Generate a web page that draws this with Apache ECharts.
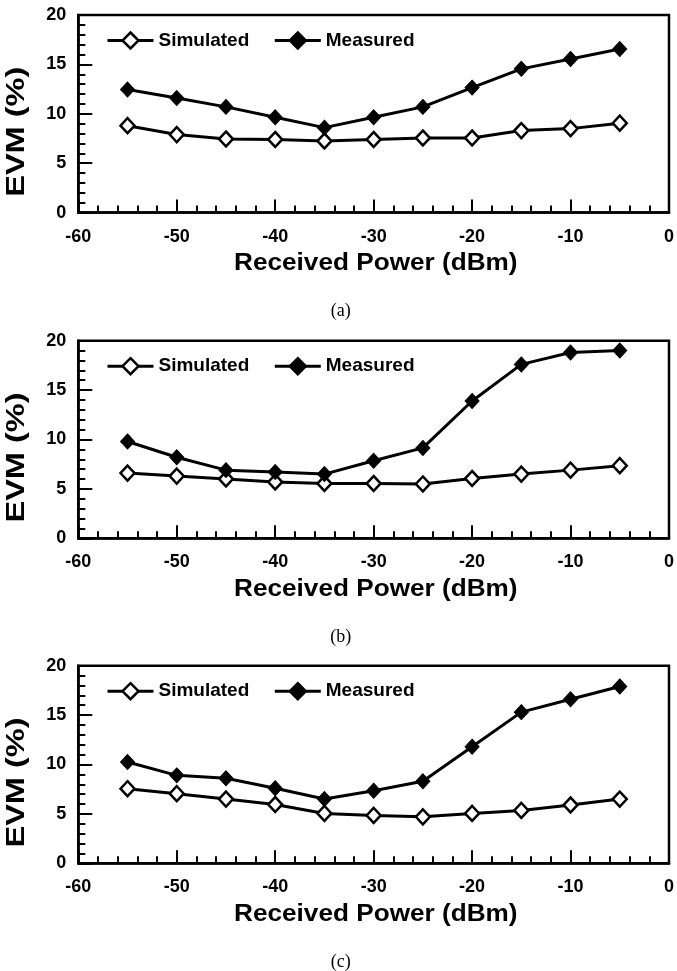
<!DOCTYPE html>
<html>
<head>
<meta charset="utf-8">
<script src="https://cdn.jsdelivr.net/npm/echarts@6/dist/echarts.min.js"></script>
<style>
html,body{margin:0;padding:0;background:#fff;}
#c{width:677px;height:971px;}
</style>
</head>
<body>
<div id="c"></div>
<script>
// Received power (dBm)
const power = [-55, -50, -45, -40, -35, -30, -25, -20, -15, -10, -5];
// Panel (a)
const simA  = [8.8, 7.9, 7.45, 7.4, 7.25, 7.4, 7.55, 7.55, 8.3, 8.5, 9.05];
const measA = [12.45, 11.6, 10.7, 9.65, 8.6, 9.65, 10.7, 12.65, 14.55, 15.55, 16.55];
// Panel (b)
const simB  = [6.6, 6.3, 6.0, 5.7, 5.55, 5.55, 5.5, 6.05, 6.5, 6.9, 7.35];
const measB = [9.8, 8.2, 6.9, 6.7, 6.5, 7.85, 9.15, 13.9, 17.6, 18.8, 19.0];
// Panel (c)
const simC  = [7.55, 7.05, 6.5, 5.95, 5.05, 4.85, 4.7, 5.05, 5.35, 5.9, 6.5];
const measC = [10.25, 8.9, 8.6, 7.6, 6.5, 7.35, 8.3, 11.8, 15.3, 16.6, 17.9];
const panelLabels = ['(a)', '(b)', '(c)'];
const seriesNames = ['Simulated', 'Measured'];
const xTitle = 'Received Power (dBm)';
const yTitle = 'EVM (%)';

const simData = [simA, simB, simC];
const measData = [measA, measB, measC];

const FONT = '"Liberation Sans", Arial, Helvetica, sans-serif';
const gridTops = [15, 340.7, 665.7];
const gridH = 197.6;
const gridLeft = 78.3;
const gridRight = 3.7;
const plotCx = gridLeft + (677 - gridLeft - gridRight) / 2;

const grids = [], xAxes = [], yAxes = [], series = [], legends = [], graphics = [];
for (let i = 0; i < 3; i++) {
  grids.push({left: gridLeft, right: gridRight, top: gridTops[i], height: gridH,
    show: true, borderColor: '#000', borderWidth: 2.5, backgroundColor: 'transparent'});
  xAxes.push({type: 'value', gridIndex: i, min: -60, max: 0, interval: 10, position: 'bottom',
    axisLine: {show: true, onZero: false, lineStyle: {color: '#000', width: 2.5}},
    axisTick: {show: true, inside: false, length: -13, lineStyle: {color: '#000', width: 2}},
    minorTick: {show: true, splitNumber: 5, length: -7, lineStyle: {color: '#000', width: 2}},
    splitLine: {show: false},
    axisLabel: {color: '#000', fontFamily: FONT, fontWeight: 'bold', fontSize: 18, margin: 15,
      showMinLabel: true, showMaxLabel: true}
  });
  yAxes.push({type: 'value', gridIndex: i, min: 0, max: 20, interval: 5, position: 'left',
    axisLine: {show: true, onZero: false, lineStyle: {color: '#000', width: 2.5}},
    axisTick: {show: true, inside: false, length: -14, lineStyle: {color: '#000', width: 2}},
    minorTick: {show: true, splitNumber: 5, length: -7, lineStyle: {color: '#000', width: 2}},
    splitLine: {show: false},
    axisLabel: {color: '#000', fontFamily: FONT, fontWeight: 'bold', fontSize: 18, margin: 12}
  });
  series.push({
    name: seriesNames[0], type: 'line', xAxisIndex: i, yAxisIndex: i,
    data: power.map((p, k) => [p, simData[i][k]]),
    symbol: 'diamond', symbolSize: [14, 15], showAllSymbol: true,
    lineStyle: {color: '#000', width: 3},
    itemStyle: {color: '#fff', borderColor: '#000', borderWidth: 2.5},
    emphasis: {disabled: true}, animation: false, z: 2
  });
  series.push({
    name: seriesNames[1], type: 'line', xAxisIndex: i, yAxisIndex: i,
    data: power.map((p, k) => [p, measData[i][k]]),
    symbol: 'diamond', symbolSize: [14, 15], showAllSymbol: true,
    lineStyle: {color: '#000', width: 3},
    itemStyle: {color: '#000', borderColor: '#000', borderWidth: 1},
    emphasis: {disabled: true}, animation: false, z: 3
  });
  legends.push({
    data: seriesNames, left: 101, top: gridTops[i] + 11,
    orient: 'horizontal', itemWidth: 46, itemHeight: 20, itemGap: 24,
    selectedMode: false,
    itemStyle: {borderWidth: 2.5},
    lineStyle: {width: 3},
    textStyle: {color: '#000', fontFamily: FONT, fontWeight: 'bold', fontSize: 19, padding: [0, 0, 0, 0]}
  });
  const axisY = gridTops[i] + gridH;
  graphics.push({type: 'text', x: plotCx, y: axisY + 51, scaleX: 1.09,
    style: {text: xTitle, fill: '#000', font: 'bold 24px ' + FONT, align: 'center', verticalAlign: 'middle'}});
  graphics.push({type: 'text', x: 17, y: gridTops[i] + gridH / 2 + 18, rotation: Math.PI / 2, scaleX: 1.3,
    style: {text: yTitle, fill: '#000', font: 'bold 25px ' + FONT, align: 'center', verticalAlign: 'middle'}});
  graphics.push({type: 'text', x: plotCx - 35, y: axisY + 98.5,
    style: {text: panelLabels[i], fill: '#000', font: '18px "Liberation Serif", "Times New Roman", serif', align: 'center', verticalAlign: 'middle'}});
}

const chart = echarts.init(document.getElementById('c'), null, {renderer: 'canvas'});
chart.setOption({
  backgroundColor: '#fff',
  animation: false,
  grid: grids, xAxis: xAxes, yAxis: yAxes, series: series, legend: legends,
  graphic: graphics
});
</script>
</body>
</html>
